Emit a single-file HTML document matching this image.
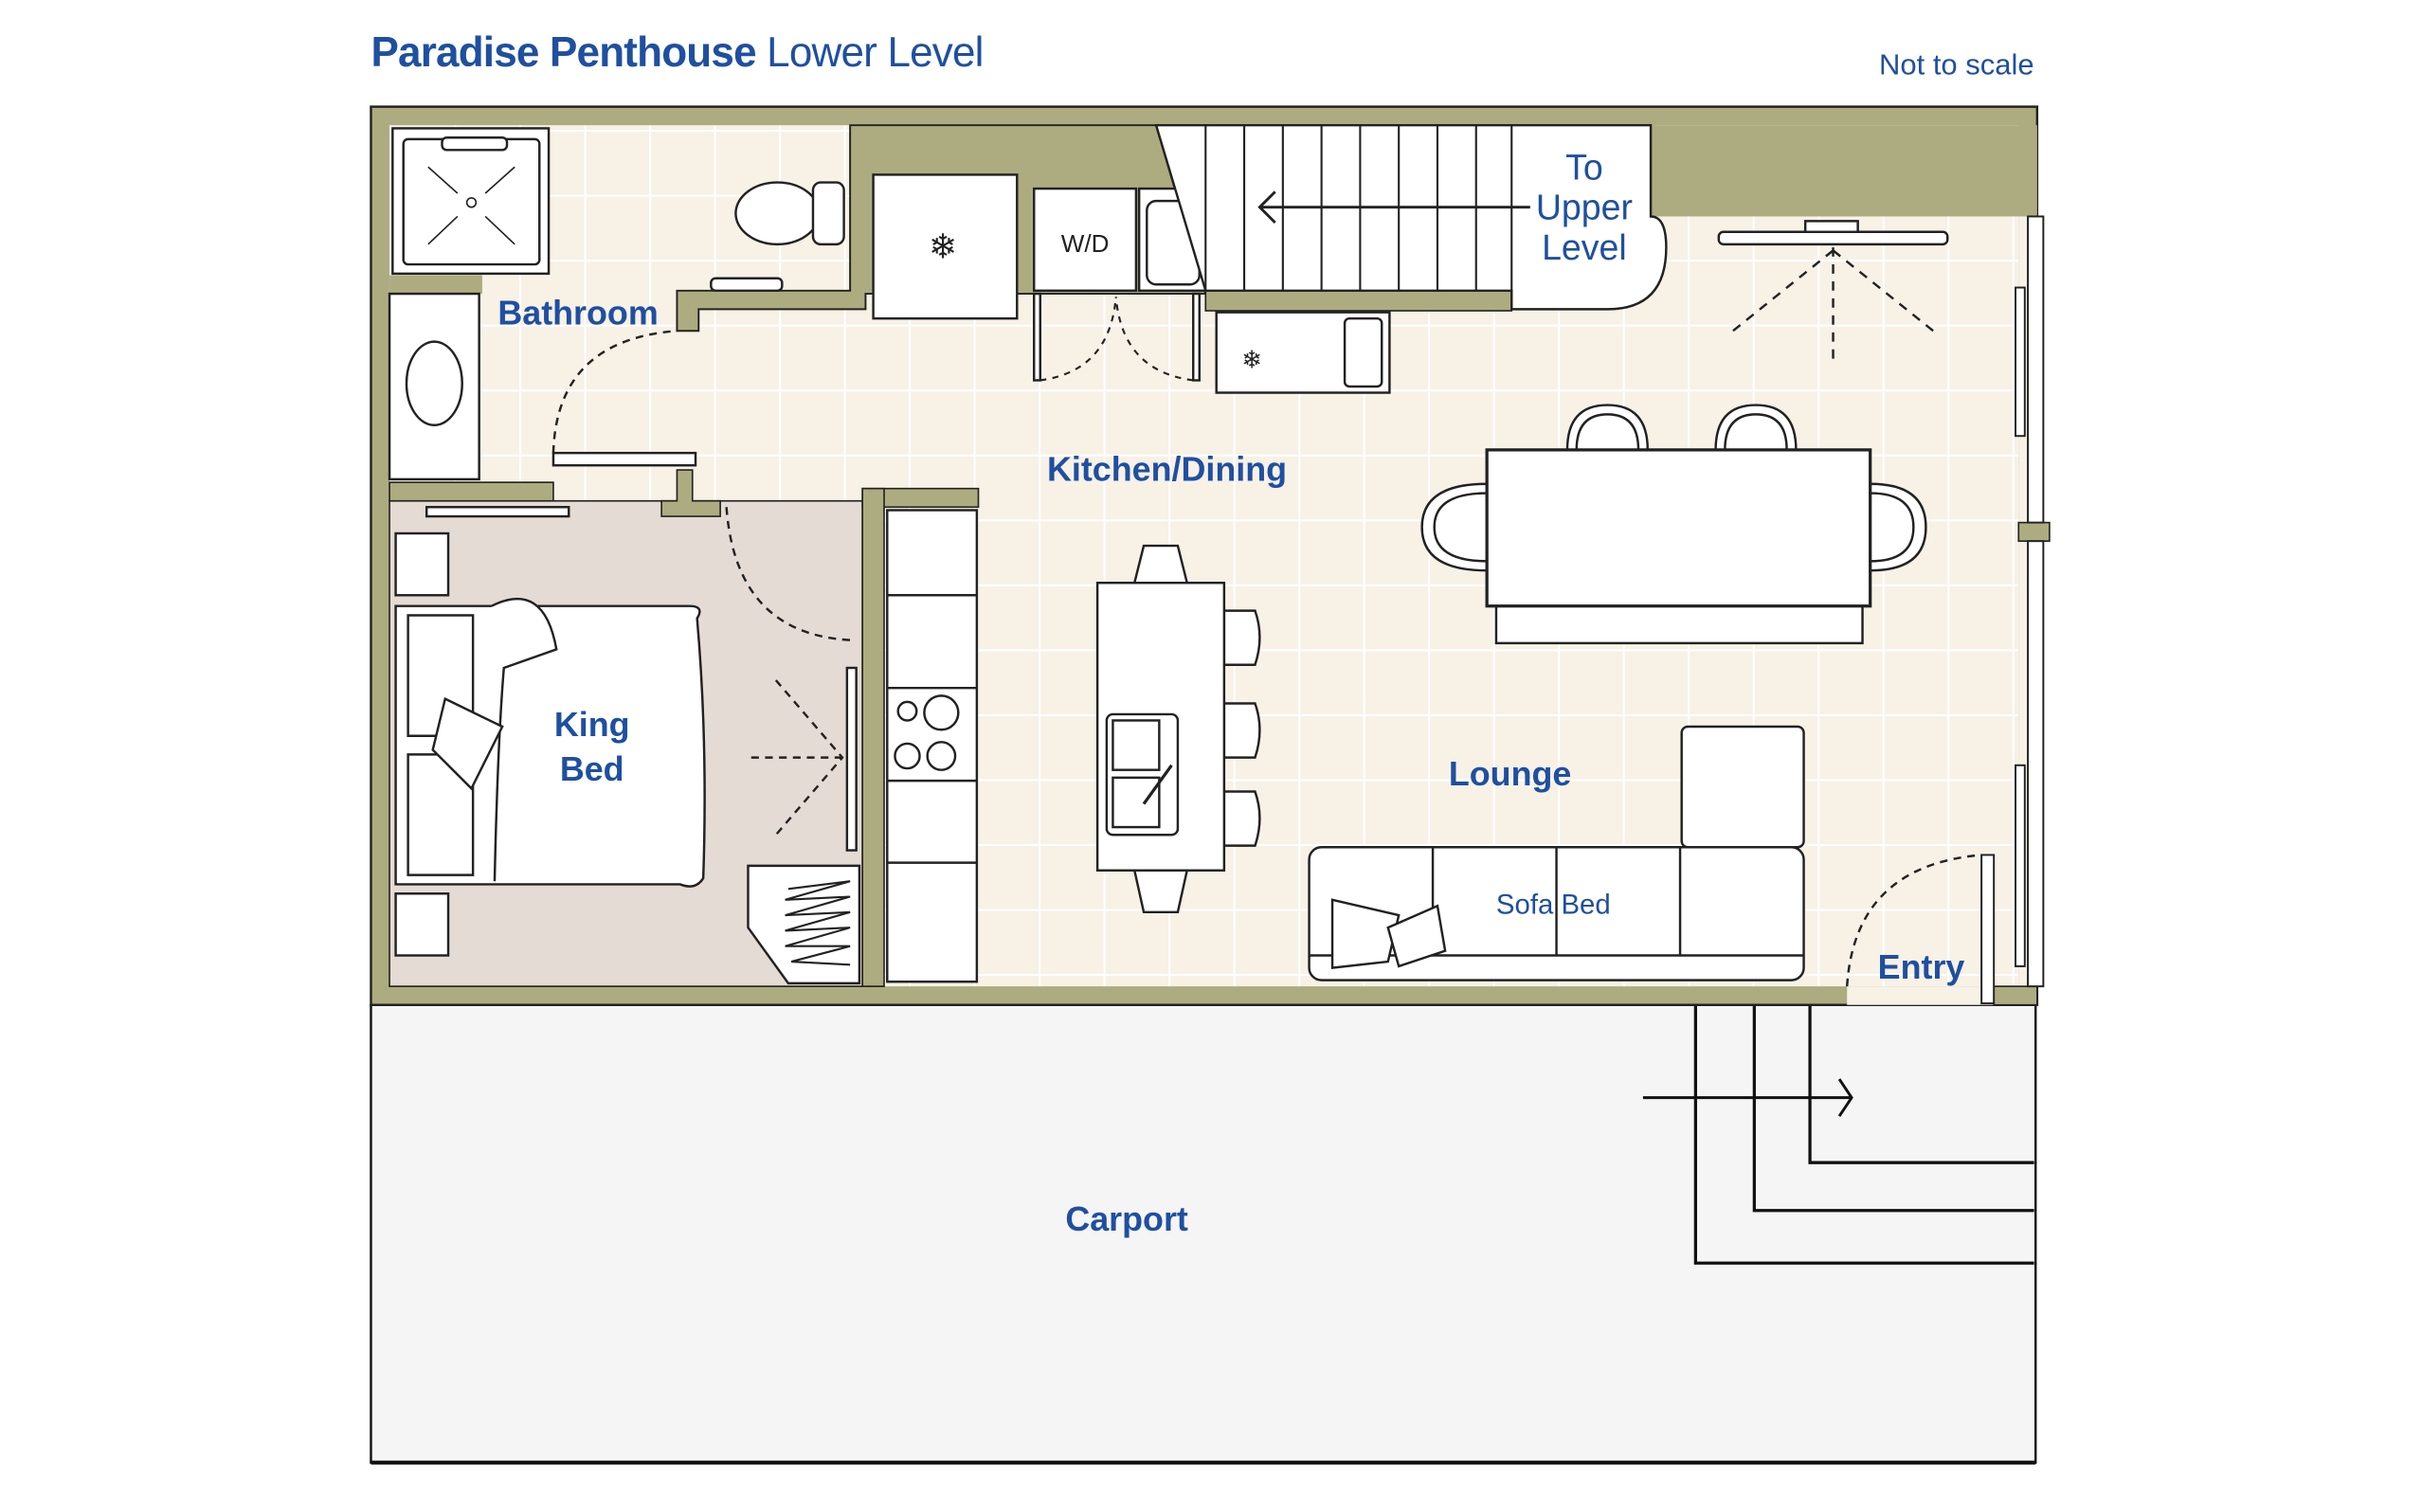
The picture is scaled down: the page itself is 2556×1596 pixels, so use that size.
<!DOCTYPE html>
<html><head><meta charset="utf-8"><style>
html,body{margin:0;padding:0;background:#fff;}
svg{display:block;}
text{font-family:"Liberation Sans",sans-serif;fill:#1f4fa0;}
</style></head><body>
<svg width="2556" height="1596" viewBox="0 0 1567 978" preserveAspectRatio="none" xmlns="http://www.w3.org/2000/svg">
<defs>
<pattern id="tile" width="42" height="42" patternUnits="userSpaceOnUse">
<rect width="42" height="42" fill="#f7f1e6"/>
<path d="M0 0.5H42M0.5 0V42" stroke="#fff" stroke-width="1.5"/>
</pattern>
</defs>
<text x="240" y="43" font-size="27" font-weight="bold" letter-spacing="-0.5">Paradise Penthouse <tspan font-weight="normal">Lower Level</tspan></text>
<text x="1316" y="48" font-size="19" text-anchor="end">Not to scale</text>

<rect x="240" y="650" width="1077" height="296" fill="#f5f5f5" stroke="#111" stroke-width="1.5"/>
<line x1="240" y1="946" x2="1317" y2="946" stroke="#111" stroke-width="2.5"/>
<path d="M1097 650V817H1316M1135 650V783H1316M1171 650V752H1316" fill="none" stroke="#111" stroke-width="2"/>
<path d="M1063 710H1198M1190 698L1198 710L1190 722" fill="none" stroke="#111" stroke-width="1.8"/>

<rect x="240" y="69" width="1078" height="581" fill="#adac80" stroke="#222" stroke-width="1.5"/>
<rect x="252" y="81" width="1054" height="557" fill="url(#tile)"/>
<rect x="1195" y="638" width="95" height="12" fill="#f7f1e6"/>
<rect x="252" y="324" width="306" height="314" fill="#e4dbd4" stroke="#222" stroke-width="1"/>
<path d="M550 81H748L780 190H560V200H452V214H438V188H550Z" fill="#adac80" stroke="#222" stroke-width="1.2"/>
<rect x="1068" y="81" width="250" height="59" fill="#adac80"/>
<rect x="780" y="188" width="198" height="13" fill="#adac80" stroke="#222" stroke-width="1"/>
<rect x="252" y="178" width="60" height="12" fill="#adac80"/>
<rect x="252" y="312" width="106" height="12" fill="#adac80" stroke="#222" stroke-width="1"/>
<path d="M438 304H448V324H466V334H428V324H438Z" fill="#adac80" stroke="#222" stroke-width="1"/>
<rect x="558" y="316" width="75" height="12" fill="#adac80" stroke="#222" stroke-width="1"/>
<rect x="558" y="316" width="14" height="322" fill="#adac80" stroke="#222" stroke-width="1"/>
<rect x="1306" y="140" width="12" height="500" fill="#f7f1e6"/>
<rect x="1306" y="338" width="20" height="12" fill="#adac80" stroke="#222" stroke-width="1"/>
<rect x="1290" y="638" width="28" height="12" fill="#adac80" stroke="#222" stroke-width="1"/>
<g fill="#fff" stroke="#222" stroke-width="1.2">
<rect x="1312" y="140" width="10" height="198"/><rect x="1304" y="186" width="6" height="96"/>
<rect x="1312" y="350" width="10" height="288"/><rect x="1304" y="495" width="6" height="130"/>
<rect x="1282" y="553" width="8" height="96"/>
</g>

<g fill="#fff" stroke="#222" stroke-width="1.5">
<rect x="254" y="83" width="101" height="94"/><rect x="261" y="90" width="88" height="81" rx="3"/>
<rect x="286" y="89" width="42" height="8" rx="3"/>
<rect x="252" y="190" width="58" height="120"/>
<ellipse cx="281" cy="248" rx="18" ry="27"/>
<ellipse cx="503" cy="138" rx="27" ry="20"/><rect x="526" y="118" width="20" height="40" rx="5"/>
<rect x="460" y="180" width="46" height="8" rx="3"/>
<rect x="358" y="293" width="92" height="8"/>
<rect x="276" y="328" width="92" height="6"/>
</g>
<path d="M277 108L296 125M333 108L314 125M277 158L296 140M333 158L314 140" stroke="#222" stroke-width="1"/>
<circle cx="305" cy="131" r="3" fill="none" stroke="#222"/>
<path d="M358 293Q360 220 438 214" fill="none" stroke="#222" stroke-width="1.5" stroke-dasharray="5,4"/>
<path d="M470 328Q476 410 550 414" fill="none" stroke="#222" stroke-width="1.5" stroke-dasharray="5,4"/>

<g fill="#fff" stroke="#222" stroke-width="1.5">
<rect x="565" y="113" width="93" height="93"/><rect x="669" y="122" width="66" height="66"/>
<rect x="737" y="122" width="43" height="66"/><rect x="742" y="130" width="34" height="54" rx="6"/>
<rect x="787" y="202" width="112" height="52"/><rect x="870" y="206" width="24" height="44" rx="3"/>
<rect x="669" y="190" width="4" height="56"/><rect x="772" y="190" width="4" height="56"/>
</g>
<text x="610" y="167" font-size="22" text-anchor="middle" style="fill:#222">❄</text>
<text x="810" y="238" font-size="16" text-anchor="middle" style="fill:#222">❄</text>
<text x="702" y="163" font-size="16" text-anchor="middle" style="fill:#222">W/D</text>
<path d="M673 246Q718 240 722 192M772 246Q726 240 722 192" fill="none" stroke="#222" stroke-width="1.3" stroke-dasharray="4,4"/>

<path d="M748 81H1068V140Q1078 140 1078 160Q1078 200 1040 200H978V188H780Z" fill="#fff" stroke="#222" stroke-width="1.5"/>
<g stroke="#222" stroke-width="1.3">
<line x1="780" y1="81" x2="780" y2="188"/><line x1="805" y1="81" x2="805" y2="188"/><line x1="830" y1="81" x2="830" y2="188"/><line x1="855" y1="81" x2="855" y2="188"/><line x1="880" y1="81" x2="880" y2="188"/><line x1="905" y1="81" x2="905" y2="188"/><line x1="930" y1="81" x2="930" y2="188"/><line x1="955" y1="81" x2="955" y2="188"/><line x1="978" y1="81" x2="978" y2="188"/>
</g>
<path d="M990 134H815M825 124L815 134L825 144" fill="none" stroke="#222" stroke-width="1.8"/>
<text x="1025" y="116" font-size="23" text-anchor="middle">To</text>
<text x="1025" y="142" font-size="23" text-anchor="middle">Upper</text>
<text x="1025" y="168" font-size="23" text-anchor="middle">Level</text>

<g fill="#fff" stroke="#222" stroke-width="1.5"><rect x="1112" y="150" width="148" height="8" rx="3"/><rect x="1168" y="143" width="34" height="7"/></g>
<path d="M1186 160V235M1186 162L1120 215M1186 162L1252 215" stroke="#222" stroke-width="1.5" stroke-dasharray="6,5" fill="none"/>

<g fill="#fff" stroke="#222" stroke-width="1.5">
<path d="M1014 291Q1014 262 1040 262Q1066 262 1066 291Z"/><path d="M1020 291Q1020 268 1040 268Q1060 268 1060 291" fill="none"/>
<path d="M1110 291Q1110 262 1136 262Q1162 262 1162 291Z"/><path d="M1116 291Q1116 268 1136 268Q1156 268 1156 291" fill="none"/>
<path d="M962 313Q920 313 920 341Q920 369 962 369Z"/><path d="M962 319Q928 319 928 341Q928 363 962 363" fill="none"/>
<path d="M1210 313Q1246 313 1246 341Q1246 369 1210 369Z"/><path d="M1210 319Q1238 319 1238 341Q1238 363 1210 363" fill="none"/>
<rect x="968" y="392" width="237" height="24"/>
<rect x="962" y="291" width="248" height="101" stroke-width="2"/>
</g>

<g fill="#fff" stroke="#222" stroke-width="1.5">
<rect x="574" y="330" width="58" height="305"/>
<line x1="574" y1="385" x2="632" y2="385"/><line x1="574" y1="445" x2="632" y2="445"/><line x1="574" y1="505" x2="632" y2="505"/><line x1="574" y1="558" x2="632" y2="558"/>
<circle cx="587" cy="460" r="6"/><circle cx="609" cy="461" r="11"/><circle cx="587" cy="489" r="8"/><circle cx="609" cy="489" r="9"/>
<path d="M734 377L740 353H762L768 377Z"/><path d="M734 563L740 590H762L768 563Z"/>
<path d="M792 395H812Q818 412 812 430H792Z"/><path d="M792 455H812Q818 472 812 490H792Z"/><path d="M792 512H812Q818 529 812 547H792Z"/>
<rect x="710" y="377" width="82" height="186"/>
<rect x="716" y="462" width="46" height="78" rx="4"/><rect x="720" y="466" width="30" height="32"/><rect x="720" y="503" width="30" height="32"/>
</g>
<path d="M740 520L758 495" stroke="#222" stroke-width="2"/>

<g fill="#fff" stroke="#222" stroke-width="1.5">
<rect x="256" y="345" width="34" height="40"/><rect x="256" y="578" width="34" height="40"/>
<path d="M256 392H446Q456 392 451 400Q458 480 455 568Q450 576 440 572H256Z"/>
<path d="M264 398H306V476H264Z"/><path d="M264 488H306V566H264Z"/>
<path d="M318 392Q352 375 360 420L326 432Q322 480 320 570" fill="#fff"/>
<path d="M288 452L325 470L305 510L280 485Z"/>
<rect x="548" y="432" width="6" height="118"/>
<path d="M484 560H556V636H510L484 600Z"/>
</g>
<path d="M486 490H545M502 440L545 490L502 540" fill="none" stroke="#222" stroke-width="1.5" stroke-dasharray="5,4"/>
<path d="M510 575L550 570L508 582L550 580L508 592L550 590L508 602L550 600L508 612L550 612L512 622L550 624" fill="none" stroke="#222" stroke-width="1.3"/>

<g fill="#fff" stroke="#222" stroke-width="1.5">
<rect x="1088" y="470" width="79" height="78" rx="4"/>
<rect x="847" y="548" width="320" height="86" rx="8"/>
<line x1="927" y1="548" x2="927" y2="618"/><line x1="1007" y1="548" x2="1007" y2="618"/><line x1="1087" y1="548" x2="1087" y2="618"/>
<line x1="847" y1="618" x2="1167" y2="618"/>
<path d="M862 582L905 592L898 622L862 626Z"/><path d="M898 600L930 586L935 615L905 625Z"/>
</g>
<path d="M1195 638Q1200 560 1282 553" fill="none" stroke="#222" stroke-width="1.5" stroke-dasharray="5,4"/>

<g font-size="22" font-weight="bold">
<text x="374" y="210" text-anchor="middle">Bathroom</text>
<text x="755" y="311" text-anchor="middle">Kitchen/Dining</text>
<text x="383" y="476" text-anchor="middle">King</text>
<text x="383" y="505" text-anchor="middle">Bed</text>
<text x="977" y="508" text-anchor="middle">Lounge</text>
<text x="1243" y="633" text-anchor="middle">Entry</text>
<text x="729" y="796" text-anchor="middle">Carport</text>
</g>
<text x="1005" y="591" font-size="18" text-anchor="middle">Sofa Bed</text>
</svg>
</body></html>
